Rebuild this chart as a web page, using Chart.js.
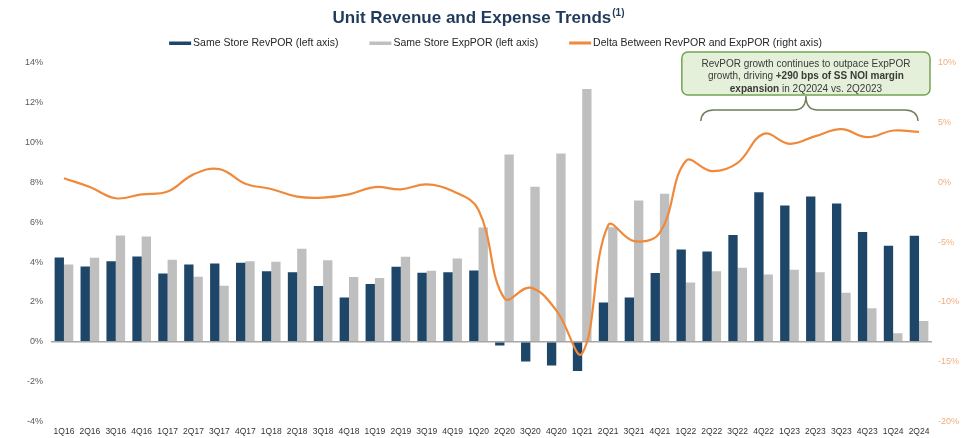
<!DOCTYPE html>
<html>
<head>
<meta charset="utf-8">
<script src="https://cdn.jsdelivr.net/npm/chart.js@4.4.1/dist/chart.umd.min.js"></script>
<style>
  html, body { margin: 0; padding: 0; background: #fff; }
  #wrap { width: 970px; height: 438px; }
</style>
</head>
<body>
<div id="wrap"><canvas id="trend_chart"></canvas></div>
<script>
// data
var quarters = ['1Q16','2Q16','3Q16','4Q16','1Q17','2Q17','3Q17','4Q17','1Q18','2Q18','3Q18','4Q18',
                '1Q19','2Q19','3Q19','4Q19','1Q20','2Q20','3Q20','4Q20','1Q21','2Q21','3Q21','4Q21',
                '1Q22','2Q22','3Q22','4Q22','1Q23','2Q23','3Q23','4Q23','1Q24','2Q24'];
var revPOR = [4.24, 3.78, 4.05, 4.29, 3.43, 3.88, 3.93, 3.97, 3.55, 3.50, 2.80, 2.23,
              2.90, 3.77, 3.47, 3.50, 3.58, -0.18, -0.99, -1.19, -1.47, 1.98, 2.23, 3.45,
              4.64, 4.54, 5.36, 7.51, 6.84, 7.30, 6.95, 5.51, 4.82, 5.33];
var expPOR = [3.88, 4.22, 5.34, 5.29, 4.12, 3.27, 2.81, 4.04, 4.02, 4.67, 4.09, 3.25,
              3.20, 4.27, 3.57, 4.19, 5.74, 9.40, 7.79, 9.46, 12.70, 5.75, 7.10, 7.44,
              2.98, 3.55, 3.72, 3.38, 3.62, 3.50, 2.46, 1.69, 0.43, 1.05];
var deltaPOR = [0.35, -0.38, -1.32, -0.99, -0.76, 0.68, 1.12, -0.10, -0.54, -1.18, -1.26, -0.99,
                -0.38, -0.57, -0.15, -0.71, -2.30, -9.70, -8.80, -10.70, -14.30, -3.60, -4.90, -4.20,
                1.80, 0.96, 1.65, 4.07, 3.24, 3.88, 4.46, 3.79, 4.35, 4.23];
var leftTicks = [-4, -2, 0, 2, 4, 6, 8, 10, 12, 14];
var rightTicks = [-20, -15, -10, -5, 0, 5, 10];

var FONT = '"Liberation Sans", Arial, sans-serif';

// title, legend and the call-out box are drawn by hand
var decorPlugin = {
    id: 'decor',
    afterDraw: function(chart) {
        var ctx = chart.ctx;
        var area = chart.chartArea;
        var xs = chart.scales.x;
        ctx.save();

        // title with superscript
        var main = 'Unit Revenue and Expense Trends';
        ctx.font = 'bold 17px ' + FONT;
        var wMain = ctx.measureText(main).width;
        ctx.font = 'bold 10px ' + FONT;
        var wSup = ctx.measureText('(1)').width;
        var tx = chart.width / 2 - 7 - (wMain + wSup) / 2;
        ctx.fillStyle = '#1f3a5a';
        ctx.textAlign = 'left';
        ctx.textBaseline = 'alphabetic';
        ctx.font = 'bold 17px ' + FONT;
        ctx.fillText(main, tx, 23);
        ctx.font = 'bold 10px ' + FONT;
        ctx.fillText('(1)', tx + wMain + 1, 16);

        // legend
        ctx.font = '10.5px ' + FONT;
        var items = chart.data.datasets.map(function(ds) {
            return {text: ds.label, color: ds.type === 'line' ? ds.borderColor : ds.backgroundColor,
                    line: ds.type === 'line', w: ctx.measureText(ds.label).width};
        });
        var boxW = 22, gapIn = 2, gapOut = 31;
        var total = 0;
        items.forEach(function(it, i) { total += boxW + gapIn + it.w + (i ? gapOut : 0); });
        var lx = (area.left + area.right) / 2 + 4 - total / 2;
        items.forEach(function(it) {
            ctx.fillStyle = it.color;
            if (it.line) ctx.fillRect(lx, 41.5, boxW, 3);
            else ctx.fillRect(lx, 41.5, boxW, 3.5);
            ctx.fillStyle = '#262626';
            ctx.fillText(it.text, lx + boxW + gapIn, 46);
            lx += boxW + gapIn + it.w + gapOut;
        });

        // call-out box
        var bl = xs.getPixelForValue(24) - 4;
        var br = area.right - 2;
        var bt = 52, bb = 95, r = 6;
        ctx.beginPath();
        ctx.moveTo(bl + r, bt);
        ctx.arcTo(br, bt, br, bb, r);
        ctx.arcTo(br, bb, bl, bb, r);
        ctx.arcTo(bl, bb, bl, bt, r);
        ctx.arcTo(bl, bt, br, bt, r);
        ctx.closePath();
        ctx.fillStyle = '#e4f0da';
        ctx.fill();
        ctx.lineWidth = 1.5;
        ctx.strokeStyle = '#73a452';
        ctx.stroke();

        var cx = (bl + br) / 2;
        var lines = [
            [['RevPOR growth continues to outpace ExpPOR', false]],
            [['growth, driving ', false], ['+290 bps of SS NOI margin', true]],
            [['expansion', true], [' in 2Q2024 vs. 2Q2023', false]]
        ];
        ctx.fillStyle = '#3a3a3a';
        lines.forEach(function(parts, i) {
            var w = 0;
            parts.forEach(function(p) {
                ctx.font = (p[1] ? 'bold ' : '') + '10px ' + FONT;
                p.w = ctx.measureText(p[0]).width;
                w += p.w;
            });
            var px = cx - w / 2;
            parts.forEach(function(p) {
                ctx.font = (p[1] ? 'bold ' : '') + '10px ' + FONT;
                ctx.fillText(p[0], px, 66.5 + i * 12.5);
                px += p.w;
            });
        });

        // curly brace under the box
        var L = xs.getPixelForValue(25) - 11;
        var R = xs.getPixelForValue(33) - 1;
        var yb = 110, yt = 121;
        ctx.beginPath();
        ctx.moveTo(L, yt);
        ctx.quadraticCurveTo(L + 1, yb, L + 13, yb);
        ctx.lineTo(cx - 12, yb);
        ctx.quadraticCurveTo(cx, yb, cx, bb + 1);
        ctx.quadraticCurveTo(cx, yb, cx + 12, yb);
        ctx.lineTo(R - 13, yb);
        ctx.quadraticCurveTo(R - 1, yb, R, yt);
        ctx.lineWidth = 1.5;
        ctx.strokeStyle = '#6e7f5c';
        ctx.stroke();

        ctx.restore();
    }
};

var ctx = document.getElementById('trend_chart').getContext('2d');
var trendChart = new Chart(ctx, {
    type: 'bar',
    data: {
        labels: quarters,
        datasets: [
            {
                label: 'Same Store RevPOR (left axis)',
                data: revPOR,
                backgroundColor: '#1e4669',
                yAxisID: 'yLeft',
                barPercentage: 1,
                categoryPercentage: 0.72,
                order: 2
            },
            {
                label: 'Same Store ExpPOR (left axis)',
                data: expPOR,
                backgroundColor: '#bfbfbf',
                yAxisID: 'yLeft',
                barPercentage: 1,
                categoryPercentage: 0.72,
                order: 2
            },
            {
                type: 'line',
                label: 'Delta Between RevPOR and ExpPOR (right axis)',
                data: deltaPOR,
                borderColor: '#ef8a3c',
                backgroundColor: '#ef8a3c',
                borderWidth: 2.2,
                pointRadius: 0,
                tension: 0.4,
                fill: false,
                yAxisID: 'yRight',
                order: 1
            }
        ]
    },
    options: {
        responsive: true,
        maintainAspectRatio: false,
        animation: false,
        layout: {
            padding: {left: 0, right: 0, top: 63, bottom: 0}
        },
        plugins: {
            legend: {display: false},
            title: {display: false},
            tooltip: {enabled: false}
        },
        scales: {
            x: {
                grid: {display: false, drawTicks: false},
                border: {display: false},
                ticks: {
                    color: '#333333',
                    font: {size: 8.5, family: FONT},
                    maxRotation: 0,
                    autoSkip: false,
                    padding: 5
                },
                afterFit: function(scale) { scale.height = 16.5; }
            },
            yLeft: {
                position: 'left',
                min: -4,
                max: 14,
                afterBuildTicks: function(scale) {
                    scale.ticks = leftTicks.map(function(v) { return {value: v}; });
                },
                ticks: {
                    color: '#595959',
                    font: {size: 9, family: FONT},
                    padding: 8,
                    callback: function(v) { return v + '%'; }
                },
                grid: {
                    drawTicks: false,
                    lineWidth: 1.5,
                    color: function(c) { return c.tick && c.tick.value === 0 ? '#a6a6a6' : 'rgba(0,0,0,0)'; }
                },
                border: {display: false},
                afterFit: function(scale) { scale.width = 51; }
            },
            yRight: {
                position: 'right',
                min: -20,
                max: 10,
                afterBuildTicks: function(scale) {
                    scale.ticks = rightTicks.map(function(v) { return {value: v}; });
                },
                ticks: {
                    color: '#f2ad7c',
                    font: {size: 9, family: FONT},
                    padding: 6,
                    callback: function(v) { return v + '%'; }
                },
                grid: {display: false, drawTicks: false},
                border: {display: false},
                afterFit: function(scale) { scale.width = 38; }
            }
        }
    },
    plugins: [decorPlugin]
});
</script>
</body>
</html>
